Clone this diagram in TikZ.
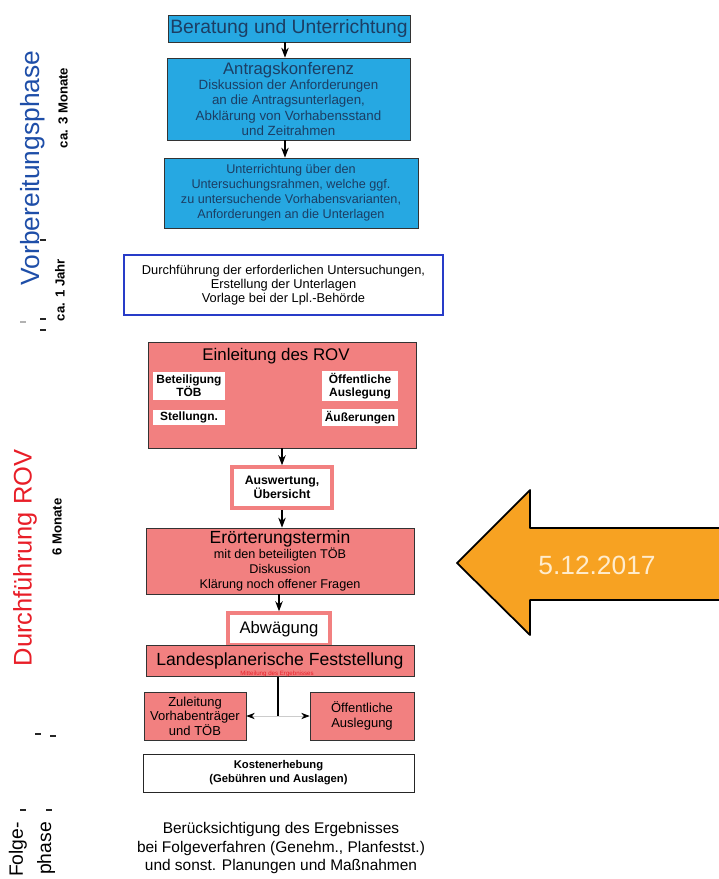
\documentclass[tikz,border=0pt]{standalone}
\usepackage{fontspec}
\setmainfont{Liberation Sans}
\usetikzlibrary{positioning,arrows.meta}
\definecolor{boxblue}{RGB}{38,168,226}
\definecolor{bluetext}{RGB}{28,62,100}
\definecolor{boxpink}{RGB}{242,128,128}
\definecolor{phaseblue}{RGB}{30,78,168}
\definecolor{phasered}{RGB}{232,30,40}
\definecolor{linkblue}{RGB}{40,60,200}
\definecolor{arroworange}{RGB}{247,162,34}
\definecolor{datecream}{RGB}{255,236,205}

\begin{document}
\begin{tikzpicture}[
        x=0.02cm, y=-0.02cm,
        >=Stealth, % small solid heads
        conn/.style={->, line width=0.6pt},
        bluebox/.style={draw=black!80, fill=boxblue, text=bluetext, align=center, inner sep=1pt},
        pinkbox/.style={draw=black!80, fill=boxpink, align=center, inner sep=1pt},
        ringbox/.style={draw=boxpink, line width=2pt, fill=white, align=center, inner sep=1pt},
        innerbox/.style={fill=white, align=center, inner sep=1pt, font=\fontsize{6.8}{7.6}\selectfont\bfseries},
        phase/.style={rotate=90, font=\fontsize{15}{17}\selectfont},
        dauer/.style={rotate=90, font=\fontsize{7.5}{9}\selectfont\bfseries},
        tick/.style={line width=1pt, black!85},
    ]
        \useasboundingbox (0,0) rectangle (719,879);

        % Vorbereitungsphase
        \node[bluebox, minimum width=4.84cm, minimum height=0.54cm, font=\fontsize{11}{12}\selectfont]
            (berat) at (289,28.5) {Beratung und Unterrichtung};
        \node[bluebox, minimum width=4.86cm, minimum height=1.64cm, font=\fontsize{7.6}{8.6}\selectfont]
            (antrag) at (288.5,99) {{\fontsize{9.5}{10}\selectfont Antragskonferenz}\\
            Diskussion der Anforderungen\\ an die Antragsunterlagen,\\
            Abklärung von Vorhabensstand\\ und Zeitrahmen};
        \node[bluebox, minimum width=5.08cm, minimum height=1.4cm, font=\fontsize{7.2}{8.5}\selectfont]
            (unterr) at (291,193) {Unterrichtung über den\\ Untersuchungsrahmen, welche ggf.\\
            zu untersuchende Vorhabensvarianten,\\ Anforderungen an die Unterlagen};
        \node[draw=linkblue, line width=0.8pt, minimum width=6.38cm, minimum height=1.2cm, align=center,
            font=\fontsize{7.3}{7.9}\selectfont]
            (durchf) at (283.5,285) {Durchführung der erforderlichen Untersuchungen,\\
            Erstellung der Unterlagen\\ Vorlage bei der Lpl.-Behörde};

        \draw[conn] (berat.south -| 285,0) -- (antrag.north -| 285,0);
        \draw[conn] (antrag.south -| 285,0) -- (unterr.north -| 285,0);

        % Durchfuehrung ROV
        \node[pinkbox, minimum width=5.36cm, minimum height=2.12cm] (einl) at (282,395) {};
        \node[font=\fontsize{9.6}{10}\selectfont] (einltitel) at (276,356) {Einleitung des ROV};
        \node[innerbox, minimum width=1.44cm, minimum height=0.56cm] (beteil) at (189,386) {Beteiligung\\ TÖB};
        \node[innerbox, minimum width=1.52cm, minimum height=0.56cm] (oeffentl) at (360,386) {Öffentliche\\ Auslegung};
        \node[innerbox, minimum width=1.44cm, minimum height=0.3cm] (stell) at (189,417.5) {Stellungn.};
        \node[innerbox, minimum width=1.52cm, minimum height=0.3cm] (aeuss) at (360,417.5) {Äußerungen};

        \node[ringbox, minimum width=2.0cm, minimum height=0.82cm, font=\fontsize{7}{7.8}\selectfont\bfseries]
            (ausw) at (282,487.5) {Auswertung,\\ Übersicht};
        \node[pinkbox, minimum width=5.36cm, minimum height=1.32cm, font=\fontsize{7.2}{8.4}\selectfont]
            (eroert) at (280,561) {{\fontsize{10}{11}\selectfont Erörterungstermin}\\
            mit den beteiligten TÖB\\ Diskussion\\ Klärung noch offener Fragen};
        \node[ringbox, minimum width=2.04cm, minimum height=0.64cm, font=\fontsize{9.5}{10}\selectfont]
            (abw) at (279,629) {Abwägung};
        \node[pinkbox, minimum width=5.36cm, minimum height=0.62cm, font=\fontsize{10}{11}\selectfont]
            (lpf) at (280,660.5) {Landesplanerische Feststellung};
        \node[text=phasered, font=\fontsize{3.5}{4}\selectfont, inner sep=0pt]
            (mitteil) at (277,673.5) {Mitteilung des Ergebnisses};
        \node[pinkbox, minimum width=2.04cm, minimum height=0.96cm, font=\fontsize{7.4}{8.2}\selectfont]
            (zuleit) at (195,716) {Zuleitung\\ Vorhabenträger\\ und TÖB};
        \node[pinkbox, minimum width=2.08cm, minimum height=0.96cm, font=\fontsize{7.4}{8.6}\selectfont]
            (auslegung) at (362,716) {Öffentliche\\ Auslegung};
        \node[draw=black!85, minimum width=5.42cm, minimum height=0.76cm, align=center,
            font=\fontsize{6.4}{8}\selectfont\bfseries]
            (kosten) at (278.5,773) {Kostenerhebung\\ (Gebühren und Auslagen)};

        \draw[conn] (einl.south -| ausw) -- (ausw.north);
        \draw[conn] (ausw) -- (ausw |- eroert.north);
        \draw[conn] (eroert.south -| abw) -- (abw.north);

        \coordinate (split) at (278,716);
        \draw[line width=0.6pt] (mitteil.south -| split) -- (split);
        \draw[black!20, -{Stealth[black]}] (split) -- (zuleit.east);
        \draw[black!20, -{Stealth[black]}] (split) -- (auslegung.west);

        % Folgephase
        \node[align=center, font=\fontsize{8.8}{10.3}\selectfont]
            (beruecks) at (281,848) {Berücksichtigung des Ergebnisses\\
            bei Folgeverfahren (Genehm., Planfestst.)\\ und sonst. Planungen und Maßnahmen};

        % Phasen links
        \node[phase, text=phaseblue] (vorb) at (33,168) {Vorbereitungsphase};
        \node[dauer] (dreimon) at (63,108) {ca. 3 Monate};
        \node[dauer] (jahr) at (60,290) {ca. 1 Jahr};
        \node[phase, text=phasered, font=\fontsize{14.5}{17}\selectfont] (rov) at (25,558) {Durchführung ROV};
        \node[dauer] (sechsmon) at (57,527) {6 Monate};
        \node[phase, anchor=east, align=right, font=\fontsize{11}{16}\selectfont]
            (folge) at (32,816) {Folge-\\ phase};

        \draw[tick] (40,240) -- (46,240);
        \draw[tick] (40,319) -- (46,319);
        \draw[tick] (40,330) -- (46,330);
        \draw[tick, black!30] (20,322) -- (26,322);
        \draw[tick] (35,734) -- (41,734);
        \draw[tick] (50,736) -- (56,736);
        \draw[tick] (20,810) -- (26,810);
        \draw[tick] (46,810) -- (52,810);

        % Datum
        \fill[arroworange] (719,528) -- (530,528) -- (530,490) -- (457,563)
            -- (530,635) -- (530,600) -- (719,600) -- cycle;
        \draw[line width=1pt, line join=round] (719,528) -- (530,528) -- (530,490) -- (457,563)
            -- (530,635) -- (530,600) -- (719,600);
        \node[text=datecream, font=\fontsize{15}{16}\selectfont] (datum) at (597,565) {5.12.2017};
    \end{tikzpicture}
\end{document}
